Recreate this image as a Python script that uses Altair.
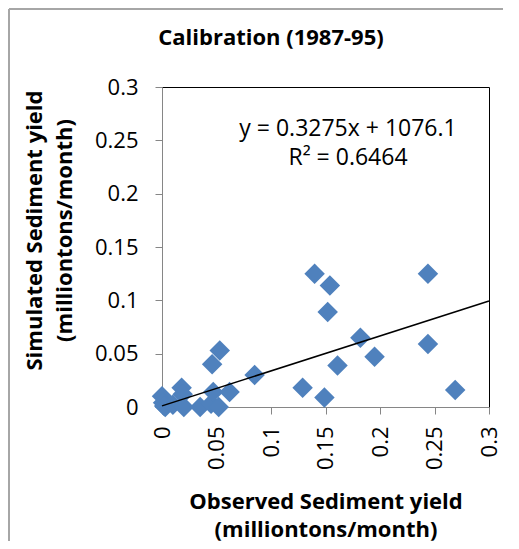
import altair as alt
import pandas as pd

# Observed vs simulated sediment yield (million tons / month)
observed = [0.000, 0.001, 0.003, 0.002, 0.010, 0.018, 0.019, 0.020, 0.035, 0.045,
            0.047, 0.052, 0.046, 0.053, 0.062, 0.085, 0.129, 0.140, 0.149, 0.152,
            0.154, 0.161, 0.182, 0.195, 0.244, 0.244, 0.269]
simulated = [0.010, 0.004, 0.000, 0.001, 0.002, 0.018, 0.012, 0.000, 0.000, 0.003,
             0.014, 0.000, 0.040, 0.053, 0.014, 0.030, 0.018, 0.125, 0.009, 0.089,
             0.114, 0.039, 0.065, 0.047, 0.125, 0.059, 0.016]

# Trendline as printed on the chart: y = 0.3275x + 1076.1 (tons) -> million tons
slope = 0.3275
intercept = 1076.1 / 1e6
trend_x = [0.0, 0.3]
trend_y = [slope * v + intercept for v in trend_x]

ticks = [0, 0.05, 0.1, 0.15, 0.2, 0.25, 0.3]
eq_lines = ["y = 0.3275x + 1076.1", "R\u00b2 = 0.6464"]
title_text = "Calibration (1987-95)"

pts = pd.DataFrame({"obs": observed, "sim": simulated})
trend = pd.DataFrame({"obs": trend_x, "sim": trend_y})
one = pd.DataFrame({"k": [0]})

FONT = "Open Sans"

xscale = alt.Scale(domain=[0, 0.3], nice=False, zero=False)
yscale = alt.Scale(domain=[0, 0.3], nice=False, zero=False)

xaxis = alt.Axis(
    values=ticks, format="~g", labelAngle=270, grid=False,
    title=["Observed Sediment yield", "(milliontons/month)"],
    titleY=101, titleBaseline="alphabetic", titleLineHeight=28,
    labelPadding=12,
)
yaxis = alt.Axis(
    values=ticks, format="~g", grid=False,
    title=["Simulated  Sediment yield", "(milliontons/month)"],
    titleAngle=270, titleX=-138, titleY=143, titleAlign="center",
    titleBaseline="top", titleLineHeight=30, labelPadding=17,
)

points = alt.Chart(pts).mark_point(
    shape="diamond", filled=True, size=420, color="#4F81BD", opacity=1
).encode(
    x=alt.X("obs:Q", scale=xscale, axis=xaxis),
    y=alt.Y("sim:Q", scale=yscale, axis=yaxis),
)

line = alt.Chart(trend).mark_line(color="black", strokeWidth=1.5).encode(
    x=alt.X("obs:Q", scale=xscale),
    y=alt.Y("sim:Q", scale=yscale),
)

label = alt.Chart(one).mark_text(
    font=FONT, fontSize=23, color="black", align="center",
    baseline="alphabetic", lineHeight=29
).encode(
    x=alt.value(186), y=alt.value(49), text=alt.value(eq_lines)
)

title = alt.Chart(one).mark_text(
    font=FONT, fontSize=22, fontWeight="bold", color="black", align="center",
    baseline="alphabetic"
).encode(
    x=alt.value(109), y=alt.value(-42), text=alt.value(title_text)
)

frame_top = alt.Chart(one).mark_rule(
    color="#a6a6a6", strokeWidth=2
).encode(x=alt.value(-153), x2=alt.value(360), y=alt.value(-78))
frame_left = alt.Chart(one).mark_rule(
    color="#a6a6a6", strokeWidth=2
).encode(x=alt.value(-153), y=alt.value(-78), y2=alt.value(460))

chart = alt.layer(frame_top, frame_left, title, points, line, label).properties(
    width=327, height=320,
    autosize=alt.AutoSizeParams(type="none"),
    padding={"left": 154, "top": 79, "right": 14, "bottom": 134},
).configure_view(
    stroke="black", strokeWidth=1
).configure_axis(
    domainColor="#868686", tickColor="#868686", tickSize=7,
    labelFont=FONT, labelFontSize=22, labelColor="black",
    titleFont=FONT, titleFontSize=22, titleFontWeight="bold", titleColor="black",
    zindex=1,
)

chart.save("out.html", embed_options={"renderer": "svg", "actions": False})
